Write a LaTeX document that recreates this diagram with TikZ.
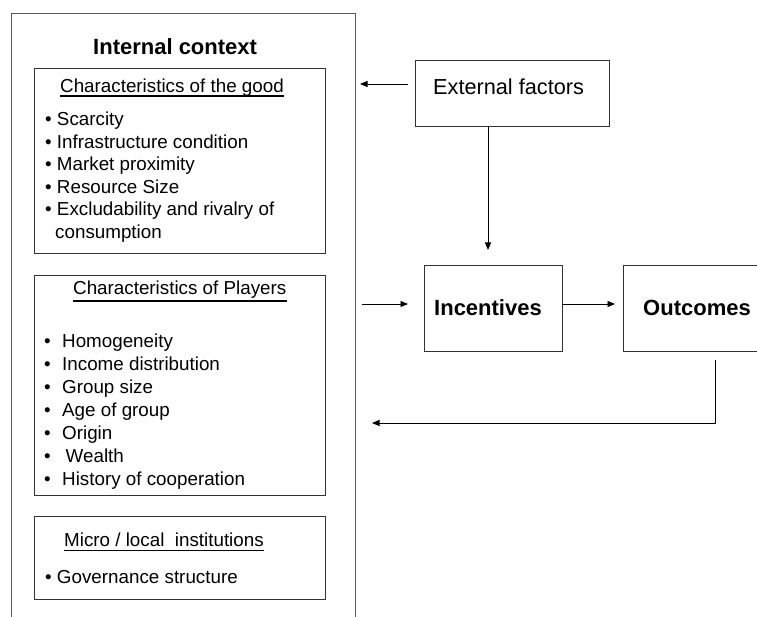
\documentclass[tikz,border=0pt]{standalone}
\usepackage{fontspec}
\setmainfont{Liberation Sans}
\usepackage{tikz}
\usetikzlibrary{calc,arrows.meta,positioning}

\tikzset{
  box/.style={draw=black!80, line width=0.9pt, inner sep=0pt, outer sep=0pt, anchor=north west},
  txt/.style={font=\fontsize{18.8}{22}\selectfont, inner sep=0pt, anchor=base west},
  bigtxt/.style={font=\fontsize{21.7}{26}\selectfont, inner sep=0pt, anchor=base west},
  hd/.style={font=\fontsize{22}{26}\selectfont\bfseries, inner sep=0pt, anchor=base west},
  uline/.style={line width=1.3pt},
  arr/.style={line width=0.9pt, -{Triangle[length=7.5pt,width=6pt]}}
}

\begin{document}
\begin{tikzpicture}[x=1pt,y=-1pt]
            \clip (0,0) rectangle (757,617);
            % internal context
            \node[box, draw=black!65, minimum width=344, minimum height=627] at (11,13) (ctx) {};
            \node[hd] at (93,55) (ctxt) {Internal context};
            \node[box, minimum width=291, minimum height=185] at (34,68) (good) {};
            \node[box, minimum width=291, minimum height=220] at (34,275) (play) {};
            \node[box, minimum width=291, minimum height=83] at (34,516) (inst) {};
            % characteristics of the good
            \node[txt] at (60,93) (goodt) {Characteristics of the good};
            \draw[uline] ([yshift=-3pt]goodt.base west) -- ([yshift=-3pt]goodt.base east);
            \foreach \t [count=\i] in {Scarcity, Infrastructure condition, Market proximity, Resource Size, Excludability and rivalry of}
                \node[txt] at (45,{126+(\i-1)*22.5}) (g\i) {• \t};
            \node[txt] at (55,238.5) (g6) {consumption};
            % characteristics of players
            \node[txt] at (73,295) (playt) {Characteristics of Players};
            \draw[uline] ([yshift=-6pt]playt.base west) -- ([yshift=-6pt]playt.base east);
            \foreach \t [count=\i] in {Homogeneity, Income distribution, Group size, Age of group, Origin, \hspace{3.5pt}Wealth, History of cooperation} {
                \node[txt] at (44,{347+(\i-1)*23.1}) (pb\i) {•};
                \node[txt] at (62,{347+(\i-1)*23.1}) (p\i) {\t};
            }
            % micro institutions
            \node[txt] at (64,546.5) (instt) {Micro / local\ \ institutions};
            \draw[uline] ([yshift=-4pt]instt.base west) -- ([yshift=-4pt]instt.base east);
            \node[txt] at (45,583) (i1) {• Governance structure};
            % right part
            \node[box, minimum width=194, minimum height=66] at (415,60) (ext) {};
            \node[bigtxt] at (433,95) (extt) {External factors};
            \node[box, minimum width=138, minimum height=86] at (424,265) (inc) {};
            \node[hd] at (434,316) (inct) {Incentives};
            \node[box, minimum width=160, minimum height=86, anchor=west, right=61pt of inc] (out) {};
            \node[hd] at (643,316) (outt) {Outcomes};
            % connectors
            \draw[arr] ([shift={(-7,-9)}]ext.west) coordinate (e1) -- ([xshift=5pt]ctx.east |- e1);
            \draw[arr] ([xshift=-24pt]ext.south) coordinate (e2) -- ([yshift=15pt]inc.north -| e2);
            \draw[arr] ([shift={(-16,-4)}]inc.west) coordinate (e3) ++(-46,0) -- (e3);
            \draw[arr] ([yshift=4pt]inc.east) -- ([shift={(-8,-4)}]out.west);
            \draw[arr] ([shift={(92,9)}]out.south west) -- ++(0,63) -- ++(-343,0);
        \end{tikzpicture}
\end{document}
